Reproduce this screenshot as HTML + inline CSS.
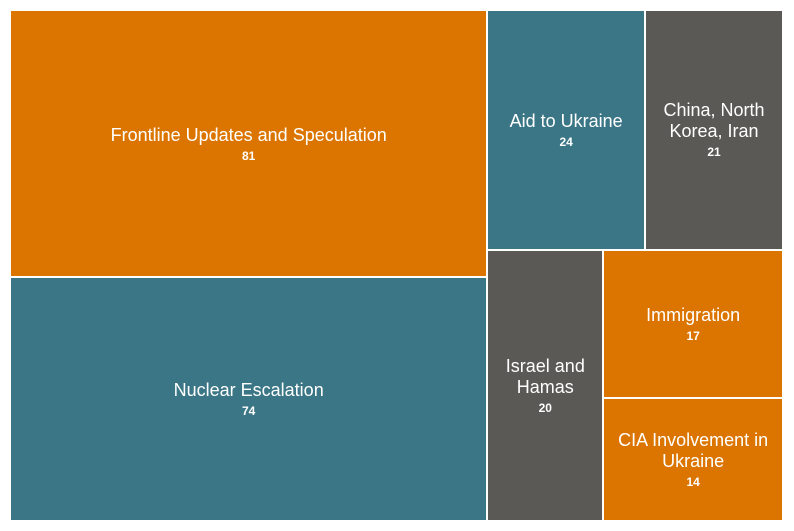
<!DOCTYPE html>
<html><head><meta charset="utf-8">
<style>
body{margin:0;background:#fff;width:794px;height:531px;overflow:hidden;font-family:"Liberation Sans",sans-serif}
#chart{position:absolute;left:0;top:0;width:794px;height:531px}
.cell{position:absolute;box-sizing:border-box;border:1px solid #fff;display:flex;flex-direction:column;align-items:center;justify-content:center;text-align:center;color:#fff;padding:0 6px}
.lab{font-size:18px;line-height:21px}
.val{font-size:12px;font-weight:bold;margin-top:3px}
</style></head><body>
<div id="chart"></div>
<script>
const categories=["Frontline Updates and Speculation","Nuclear Escalation","Aid to Ukraine","China, North Korea, Iran","Israel and Hamas","Immigration","CIA Involvement in Ukraine"];
const values=[81,74,24,21,20,17,14];
const colors=["#DB7500","#3B7686","#3B7686","#5A5955","#5A5955","#DB7500","#DB7500"];
const X0=10,Y0=10,W=773,H=511;
const total=values.reduce((a,b)=>a+b,0);
const rects=[];
// left column: items 0,1 stacked
const lw=W*(values[0]+values[1])/total;
const h0=H*values[0]/(values[0]+values[1]);
rects.push([X0,Y0,lw,h0]);
rects.push([X0,Y0+h0,lw,H-h0]);
// right region
const rx=X0+lw,rw=W-lw;
const rest=total-values[0]-values[1];
const th=H*(values[2]+values[3])/rest;
const aw=rw*values[2]/(values[2]+values[3]);
rects.push([rx,Y0,aw,th]);
rects.push([rx+aw,Y0,rw-aw,th]);
const by=Y0+th,bh=H-th;
const brest=values[4]+values[5]+values[6];
const iw=rw*values[4]/brest;
rects.push([rx,by,iw,bh]);
const imh=bh*values[5]/(values[5]+values[6]);
rects.push([rx+iw,by,rw-iw,imh]);
rects.push([rx+iw,by+imh,rw-iw,bh-imh]);
const chart=document.getElementById('chart');
rects.forEach((r,i)=>{
  const d=document.createElement('div');
  d.className='cell';
  
  
  d.style.left=r[0]+'px';d.style.top=r[1]+'px';d.style.width=r[2]+'px';d.style.height=r[3]+'px';
  d.style.background=colors[i];
  const l=document.createElement('div');l.className='lab';l.textContent=categories[i];
  
  
  const v=document.createElement('div');v.className='val';v.textContent=values[i];
  
  
  d.appendChild(l);d.appendChild(v);chart.appendChild(d);
});
</script>
</body></html>
